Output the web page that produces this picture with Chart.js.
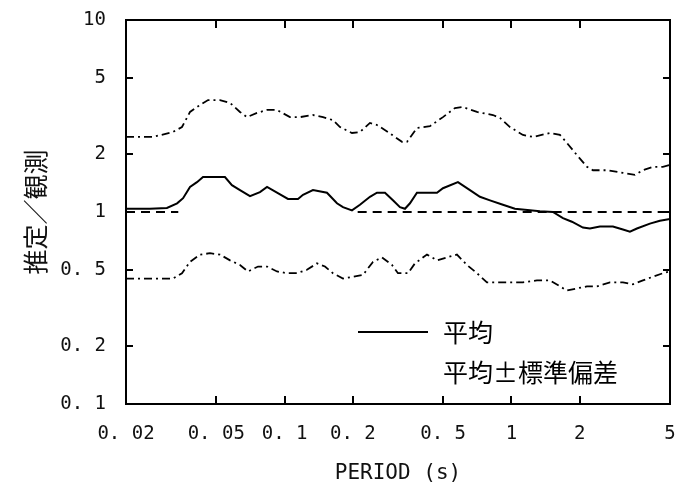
<!DOCTYPE html>
<html>
<head>
<meta charset="utf-8">
<script src="https://cdn.jsdelivr.net/npm/chart.js@4"></script>
<style>
  html, body { margin: 0; padding: 0; background: #fff; }
  canvas { display: block; }
</style>
</head>
<body>
<canvas id="chart" width="678" height="486"></canvas>
<script>
// Ratio of estimated to observed spectra vs. period, log-log.
// Values read off the reference figure.

const X_TICKS = [0.02, 0.05, 0.1, 0.2, 0.5, 1, 2, 5];
const X_TICK_LABELS = ["0. 02", "0. 05", "0. 1", "0. 2", "0. 5", "1", "2", "5"];
const Y_TICKS = [0.1, 0.2, 0.5, 1, 2, 5, 10];
const Y_TICK_LABELS = ["0. 1", "0. 2", "0. 5", "1", "2", "5", "10"];

// mean (solid)
const MEAN_PERIOD = [0.020, 0.0255, 0.0303, 0.0336, 0.0357, 0.0383, 0.0411, 0.0437, 0.0546, 0.0586,
  0.0636, 0.0704, 0.0779, 0.0837, 0.0926, 0.1035, 0.1146, 0.1206, 0.1334, 0.1538,
  0.1702, 0.1809, 0.1982, 0.2149, 0.2379, 0.2554, 0.2771, 0.3004, 0.3226, 0.3394,
  0.3571, 0.3833, 0.4697, 0.4991, 0.5810, 0.6563, 0.7265, 0.8043, 0.9173, 1.036,
  1.335, 1.523, 1.687, 1.847, 2.066, 2.218, 2.455, 2.801, 3.101, 3.329,
  3.574, 4.078, 4.513, 5.0];
const MEAN_RATIO = [1.04, 1.04, 1.05, 1.11, 1.18, 1.35, 1.43, 1.52, 1.52, 1.38,
  1.30, 1.21, 1.27, 1.35, 1.26, 1.17, 1.17, 1.23, 1.30, 1.26,
  1.11, 1.06, 1.02, 1.09, 1.20, 1.26, 1.26, 1.15, 1.06, 1.04,
  1.11, 1.26, 1.26, 1.33, 1.43, 1.30, 1.20, 1.15, 1.09, 1.04,
  1.01, 1.00, 0.93, 0.89, 0.83, 0.82, 0.84, 0.84, 0.81, 0.79,
  0.82, 0.87, 0.90, 0.92];

// mean + std (dash-dot)
const UPPER_PERIOD = [0.020, 0.0263, 0.0322, 0.0353, 0.0383, 0.0424, 0.0460, 0.0519, 0.0575, 0.0636,
  0.0683, 0.0756, 0.0837, 0.0926, 0.1056, 0.1169, 0.1334, 0.1477, 0.1634, 0.1755,
  0.1982, 0.2149, 0.2379, 0.2554, 0.2856, 0.3292, 0.3463, 0.3833, 0.4374, 0.4991,
  0.5637, 0.6112, 0.7048, 0.8290, 0.8900, 0.9850, 1.124, 1.244, 1.478, 1.636,
  1.756, 1.944, 2.152, 2.286, 2.636, 3.101, 3.502, 3.798, 4.204, 4.652, 5.0];
const UPPER_RATIO = [2.46, 2.46, 2.61, 2.77, 3.32, 3.61, 3.83, 3.83, 3.70, 3.32,
  3.12, 3.28, 3.40, 3.40, 3.12, 3.12, 3.20, 3.12, 3.01, 2.77,
  2.58, 2.61, 2.91, 2.84, 2.61, 2.32, 2.32, 2.74, 2.80, 3.12,
  3.48, 3.52, 3.32, 3.20, 3.09, 2.77, 2.52, 2.46, 2.58, 2.52,
  2.29, 1.98, 1.72, 1.65, 1.65, 1.60, 1.56, 1.65, 1.72, 1.72, 1.76];

// mean - std (dash-dot)
const LOWER_PERIOD = [0.020, 0.0322, 0.0353, 0.0383, 0.0424, 0.0469, 0.0519, 0.0575, 0.0636, 0.0690,
  0.0764, 0.0837, 0.0926, 0.1025, 0.1134, 0.1255, 0.1389, 0.1507, 0.1634, 0.1809,
  0.2216, 0.2453, 0.2686, 0.2974, 0.3161, 0.3499, 0.3756, 0.4243, 0.4697, 0.5198,
  0.5752, 0.6366, 0.7048, 0.7798, 0.8632, 0.9850, 1.124, 1.295, 1.478, 1.636,
  1.756, 1.944, 2.152, 2.382, 2.718, 3.101, 3.431, 3.798, 4.204, 4.652, 5.0];
const LOWER_RATIO = [0.45, 0.45, 0.48, 0.55, 0.60, 0.61, 0.60, 0.56, 0.53, 0.49,
  0.52, 0.52, 0.49, 0.48, 0.48, 0.50, 0.54, 0.52, 0.48, 0.45,
  0.47, 0.55, 0.58, 0.53, 0.48, 0.48, 0.54, 0.60, 0.56, 0.58,
  0.60, 0.53, 0.48, 0.43, 0.43, 0.43, 0.43, 0.44, 0.44, 0.41,
  0.39, 0.40, 0.41, 0.41, 0.43, 0.43, 0.42, 0.44, 0.46, 0.48, 0.49];

// ratio = 1 reference (dashed; broken where it vanishes in the figure)
const REF_PERIOD = [0.02, 0.034, 0.1, 0.21, 5];
const REF_RATIO = [1, 1, null, 1, 1];

const MONO = "'DejaVu Sans Mono', 'Liberation Mono', monospace";
const JP = "'Noto Sans CJK JP', 'Noto Sans', sans-serif";

const pts = (xs, ys) => xs.map((x, i) => ({ x, y: ys[i] }));

// Box round the plot with inward ticks on all four sides.
const frameTicks = {
  id: "frameTicks",
  afterDraw(chart) {
    const { ctx, chartArea: a, scales } = chart;
    ctx.save();
    ctx.strokeStyle = "#000";
    ctx.lineWidth = 2;
    ctx.strokeRect(a.left, a.top, a.right - a.left, a.bottom - a.top);
    ctx.beginPath();
    for (const v of X_TICKS.slice(1, -1)) {
      const px = Math.round(scales.x.getPixelForValue(v));
      ctx.moveTo(px, a.bottom); ctx.lineTo(px, a.bottom - 8);
      ctx.moveTo(px, a.top); ctx.lineTo(px, a.top + 8);
    }
    for (const v of Y_TICKS.slice(1, -1)) {
      const py = Math.round(scales.y.getPixelForValue(v));
      ctx.moveTo(a.left, py); ctx.lineTo(a.left + 7, py);
      ctx.moveTo(a.right, py); ctx.lineTo(a.right - 7, py);
    }
    ctx.stroke();
    ctx.restore();
  },
};

// Legend inside the plot, lower right (the figure shows no sample for the 2nd entry).
const innerLegend = {
  id: "innerLegend",
  afterDraw(chart) {
    const { ctx } = chart;
    const ds = chart.data.datasets;
    ctx.save();
    ctx.fillStyle = "#000";
    ctx.font = "25px " + JP;
    ctx.textBaseline = "middle";
    ctx.strokeStyle = "#000";
    ctx.lineWidth = 2;
    ctx.beginPath();
    ctx.moveTo(358, 332); ctx.lineTo(428, 332);
    ctx.stroke();
    ctx.fillText(ds[0].label, 443, 332);
    ctx.fillText(ds[1].label, 443, 372);
    ctx.restore();
  },
};

new Chart(document.getElementById("chart"), {
  type: "line",
  data: {
    datasets: [
      { label: "平均", data: pts(MEAN_PERIOD, MEAN_RATIO), borderColor: "#000", borderWidth: 2 },
      { label: "平均±標準偏差", data: pts(UPPER_PERIOD, UPPER_RATIO), borderColor: "#000", borderWidth: 1.8, borderDash: [8, 4, 2, 4] },
      { label: "平均-標準偏差", data: pts(LOWER_PERIOD, LOWER_RATIO), borderColor: "#000", borderWidth: 1.8, borderDash: [8, 4, 2, 4] },
      { label: "1", data: pts(REF_PERIOD, REF_RATIO), borderColor: "#000", borderWidth: 2, borderDash: [9, 6], spanGaps: false },
    ],
  },
  options: {
    responsive: false,
    animation: false,
    events: [],
    elements: { point: { radius: 0 }, line: { tension: 0 } },
    layout: { padding: { top: 20, right: 8, left: 0, bottom: 0 } },
    plugins: { legend: { display: false }, tooltip: { enabled: false } },
    scales: {
      x: {
        type: "logarithmic",
        min: 0.02,
        max: 5,
        afterBuildTicks: (s) => { s.ticks = X_TICKS.map((v) => ({ value: v })); },
        afterFit: (s) => { s.height = 82; s.paddingLeft = 0; s.paddingRight = 0; },
        grid: { display: false },
        border: { display: false },
        ticks: {
          autoSkip: false,
          maxRotation: 0,
          padding: 11,
          color: "#111",
          font: { family: MONO, size: 19 },
          callback: (v) => X_TICK_LABELS[X_TICKS.indexOf(v)],
        },
        title: {
          display: true,
          text: "PERIOD (s)",
          color: "#111",
          font: { family: MONO, size: 21 },
          padding: { top: 9, bottom: 0 },
        },
      },
      y: {
        type: "logarithmic",
        min: 0.1,
        max: 10,
        afterBuildTicks: (s) => { s.ticks = Y_TICKS.map((v) => ({ value: v })); },
        afterFit: (s) => { s.width = 126; s.paddingTop = 0; s.paddingBottom = 0; },
        grid: { display: false },
        border: { display: false },
        ticks: {
          autoSkip: false,
          padding: 12,
          color: "#111",
          font: { family: MONO, size: 19 },
          callback: (v) => Y_TICK_LABELS[Y_TICKS.indexOf(v)],
        },
        title: {
          display: true,
          text: "推定／観測",
          color: "#111",
          font: { family: JP, size: 25 },
          padding: { top: 20, bottom: 0 },
        },
      },
    },
  },
  plugins: [frameTicks, innerLegend],
});
</script>
</body>
</html>
